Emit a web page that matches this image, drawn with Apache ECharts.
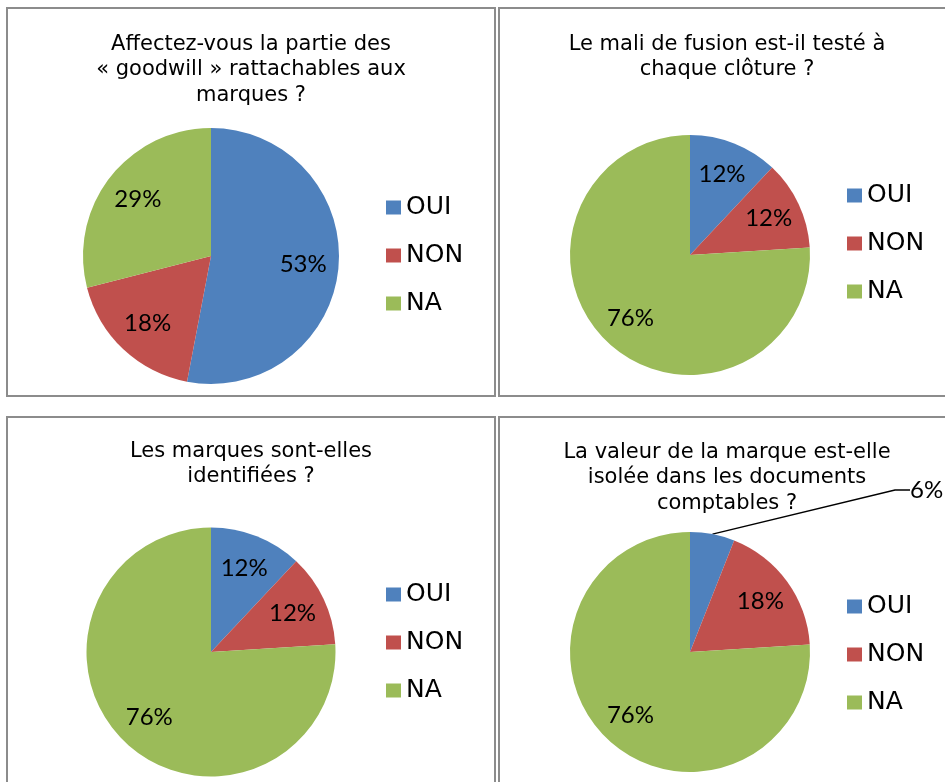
<!DOCTYPE html>
<html>
<head>
<meta charset="utf-8">
<script src="https://cdn.jsdelivr.net/npm/echarts@6/dist/echarts.min.js"></script>
<style>
  html, body { margin: 0; padding: 0; background: #fff; }
  #chart { width: 945px; height: 782px; }
</style>
</head>
<body>
<div id="chart"></div>
<script>
// données (en %)
const categories = ['OUI', 'NON', 'NA'];
const goodwillValues = [53, 18, 29];
const maliValues = [12, 12, 76];
const identValues = [12, 12, 76];
const isoleeValues = [6, 18, 76];

const titles = [
  'Affectez-vous la partie des\n« goodwill » rattachables aux\nmarques ?',
  'Le mali de fusion est-il testé à\nchaque clôture ?',
  'Les marques sont-elles\nidentifiées ?',
  'La valeur de la marque est-elle\nisolée dans les documents\ncomptables ?'
];

const colors = ['#4F81BD', '#C0504D', '#9BBB59'];

// mise en page des 4 cadres
const panels = [
  { values: goodwillValues, box: [7, 8, 488, 388], titleX: 251, titleY: 31.5, center: [211, 256], r: 128, legend: [386, 195] },
  { values: maliValues, box: [499, 8, 460, 388], titleX: 727, titleY: 31.5, center: [690, 255], r: 120, legend: [847, 183] },
  { values: identValues, box: [7, 417, 488, 400], titleX: 251, titleY: 438.5, center: [211, 652], r: 124.5, legend: [386, 582] },
  { values: isoleeValues, box: [499, 417, 460, 400], titleX: 727, titleY: 439.5, center: [690, 652], r: 120, legend: [847, 594], outsideLabel: [910, 490] }
];

let myChart = echarts.init(document.getElementById('chart'));

let series = [];
panels.forEach(function (p) {
  // camembert
  series.push({
    type: 'pie',
    center: p.center,
    radius: p.r,
    startAngle: 90,
    clockwise: true,
    silent: true,
    label: { show: false },
    labelLine: { show: false },
    itemStyle: { borderWidth: 0 },
    data: categories.map((name, i) => ({ name: name, value: p.values[i], itemStyle: { color: colors[i] } }))
  });
});
panels.forEach(function (p) {
  // couche transparente pour placer les étiquettes à ~70% du rayon
  let s = {
    type: 'pie',
    center: p.center,
    radius: [p.r * 0.4, p.r],
    startAngle: 90,
    clockwise: true,
    silent: true,
    avoidLabelOverlap: false,
    itemStyle: { color: 'transparent', borderWidth: 0 },
    label: {
      show: true,
      position: 'inside',
      formatter: '{c}%',
      fontFamily: 'Lato',
      fontSize: 24,
      color: '#000'
    },
    labelLine: { show: false },
    data: categories.map((name, i) => ({ name: name, value: p.values[i] }))
  };
  if (p.outsideLabel) {
    s.data[0].label = { position: 'outside' };
    s.data[0].labelLine = { show: true, length: 10, length2: 15, lineStyle: { color: '#000', width: 1.5 } };
    s.labelLayout = function (params) {
      if (params.dataIndex !== 0) return {};
      return { x: p.outsideLabel[0], y: p.outsideLabel[1], align: 'left', verticalAlign: 'middle' };
    };
  }
  series.push(s);
});

let option = {
  animation: false,
  title: panels.map((p, i) => ({
    text: titles[i],
    left: p.titleX,
    top: p.titleY,
    textAlign: 'center',
    padding: 0,
    textStyle: { fontFamily: 'DejaVu Sans', fontSize: 21, fontWeight: 'normal', color: '#000', lineHeight: 25.5 }
  })),
  legend: panels.map(p => ({
    data: categories,
    orient: 'vertical',
    left: p.legend[0],
    top: p.legend[1],
    padding: 0,
    icon: 'rect',
    itemWidth: 15,
    itemHeight: 14,
    itemGap: 23,
    selectedMode: false,
    textStyle: { fontFamily: 'DejaVu Sans', fontSize: 25, color: '#000', lineHeight: 25 }
  })),
  graphic: panels.map(p => ({
    type: 'rect',
    silent: true,
    shape: { x: p.box[0], y: p.box[1], width: p.box[2], height: p.box[3] },
    style: { fill: 'none', stroke: '#8c8c8c', lineWidth: 2 }
  })),
  series: series
};

myChart.setOption(option);
</script>
</body>
</html>
